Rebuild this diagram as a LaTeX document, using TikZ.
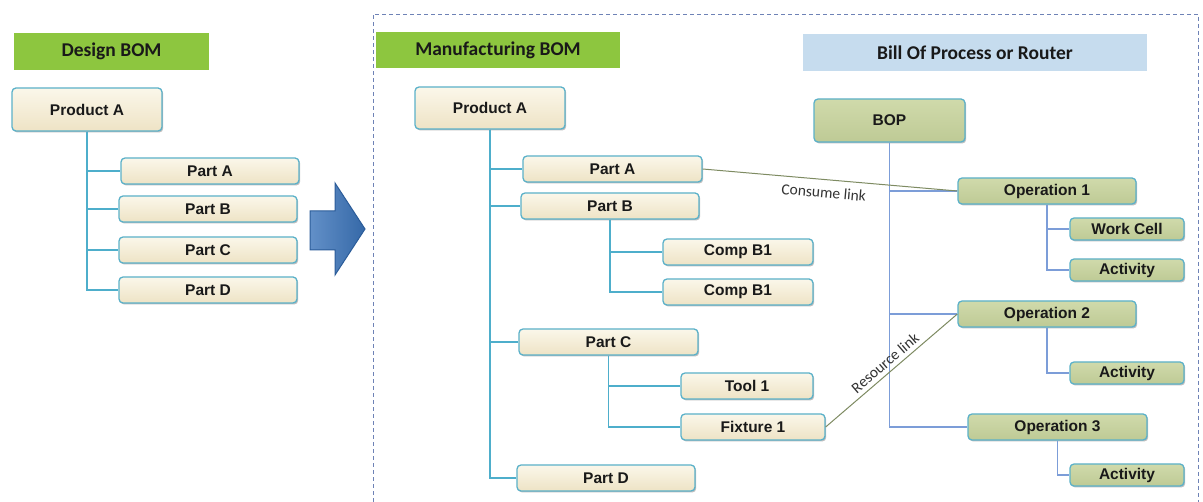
\documentclass[tikz,border=0pt]{standalone}
\usepackage{fontspec}
\setmainfont{Liberation Sans}
\newfontfamily\hfont{Carlito}
\usetikzlibrary{shadows}
\definecolor{boxborder}{HTML}{5BB1C9}
\definecolor{creamtop}{HTML}{FBF7EA}
\definecolor{creambot}{HTML}{EEE3C5}
\definecolor{greentop}{HTML}{D0DAAB}
\definecolor{greenbot}{HTML}{BECA95}
\definecolor{hgreen}{HTML}{8DC63F}
\definecolor{hblue}{HTML}{C6DCEE}
\definecolor{tealline}{HTML}{4EAECB}
\definecolor{blueline}{HTML}{7C9DD8}
\definecolor{linkline}{HTML}{7E8B62}
\definecolor{arrowfill}{HTML}{3B74BA}
\definecolor{arrowdraw}{HTML}{2B5C99}
\definecolor{frameblue}{HTML}{6E82B6}
\tikzset{
  base/.style={draw=boxborder, line width=1.3pt, rounded corners=4pt,
    inner sep=0pt, font=\bfseries\fontsize{15.5}{17}\selectfont, text=black!90,
    drop shadow={shadow xshift=1.2pt, shadow yshift=-1.5pt, opacity=0.25, fill=black}},
  cream/.style={base, top color=creamtop, bottom color=creambot},
  olive/.style={base, top color=greentop, bottom color=greenbot},
  header/.style={inner sep=0pt, font=\hfont\bfseries\fontsize{19.5}{21}\selectfont, text=black!90},
  tree/.style={draw=tealline, line width=1.2pt},
  btree/.style={draw=blueline, line width=1.2pt},
  link/.style={draw=linkline, line width=1pt},
  linklabel/.style={font=\hfont\fontsize{15.5}{17}\selectfont, text=black!80, inner sep=2pt},
}
\begin{document}
\begin{tikzpicture}[x=1pt, y=-1pt]
\useasboundingbox[fill=white] (0,0) rectangle (1203,502);
% frame
\draw[frameblue, dashed, line width=0.8pt, dash pattern=on 4pt off 3pt] (373,502) -- (373,14) -- (1198,14) -- (1198,502);
% headers
\node[header, fill=hgreen, minimum width=195, minimum height=37] (dh) at (111.5,51.5) {Design BOM};
\node[header, fill=hgreen, minimum width=244, minimum height=36] (mh) at (498,50) {Manufacturing BOM};
\node[header, fill=hblue, minimum width=344, minimum height=37] (bh) at (975,52.5) {Bill Of Process or Router};
% left tree
\node[cream, minimum width=150, minimum height=43] (lprod) at (87,109.5) {Product A};
\node[cream, minimum width=178, minimum height=26] (lpa) at (210,171) {Part A};
\node[cream, minimum width=178, minimum height=26] (lpb) at (208,209) {Part B};
\node[cream, minimum width=178, minimum height=26] (lpc) at (208,250) {Part C};
\node[cream, minimum width=178, minimum height=26] (lpd) at (208,290) {Part D};
% arrow
\draw[arrowdraw, line width=1pt, left color=arrowfill!80!white, right color=arrowfill!90!black, line join=miter]
  (310,211) -- (335,211) -- (335,183) -- (365,229) -- (335,275) -- (335,250) -- (310,250) -- cycle;
% manufacturing tree
\node[cream, minimum width=150, minimum height=42] (mprod) at (490,108) {Product A};
\node[cream, minimum width=179, minimum height=26] (mpa) at (612.5,169) {Part A};
\node[cream, minimum width=178, minimum height=26] (mpb) at (610,206) {Part B};
\node[cream, minimum width=150, minimum height=26] (cb1) at (738,252) {Comp B1};
\node[cream, minimum width=150, minimum height=26] (cb2) at (738,292) {Comp B1};
\node[cream, minimum width=179, minimum height=26] (mpc) at (608.5,342) {Part C};
\node[cream, minimum width=132, minimum height=26] (tool) at (747,386) {Tool 1};
\node[cream, minimum width=144, minimum height=26] (fix) at (753,427) {Fixture 1};
\node[cream, minimum width=178, minimum height=26] (mpd) at (606,478) {Part D};
% BOP tree
\node[olive, minimum width=151, minimum height=43] (bop) at (889.5,120.5) {BOP};
\node[olive, minimum width=178, minimum height=26] (op1) at (1047,191) {Operation 1};
\node[olive, minimum width=114, minimum height=22] (wc) at (1127,229) {Work Cell};
\node[olive, minimum width=114, minimum height=22] (act1) at (1127,270) {Activity};
\node[olive, minimum width=178, minimum height=26] (op2) at (1047,314) {Operation 2};
\node[olive, minimum width=114, minimum height=22] (act2) at (1127,373) {Activity};
\node[olive, minimum width=179, minimum height=26] (op3) at (1057.5,427) {Operation 3};
\node[olive, minimum width=114, minimum height=22] (act3) at (1127,475) {Activity};
% connectors (left)
\draw[tree] (lprod.south) |- (lpa.west);
\draw[tree] (lprod.south) |- (lpb.west);
\draw[tree] (lprod.south) |- (lpc.west);
\draw[tree] (lprod.south) |- (lpd.west);
% connectors (mfg)
\draw[tree] (mprod.south) |- (mpa.west);
\draw[tree] (mprod.south) |- (mpb.west);
\draw[tree] (mprod.south) |- (mpc.west);
\draw[tree] (mprod.south) |- (mpd.west);
\draw[tree] (mpb.south) |- (cb1.west);
\draw[tree] (mpb.south) |- (cb2.west);
\draw[tree] (mpc.south) |- (tool.west);
\draw[tree] (mpc.south) |- (fix.west);
% connectors (BOP)
\draw[btree] (bop.south) |- (op1.west);
\draw[btree] (bop.south) |- (op2.west);
\draw[btree] (bop.south) |- (op3.west);
\draw[btree] (op1.south) |- (wc.west);
\draw[btree] (op1.south) |- (act1.west);
\draw[btree] (op2.south) |- (act2.west);
\draw[btree] (op3.south) |- (act3.west);
% links
\draw[link] (mpa.east) -- (op1.west) node[linklabel, pos=0.48, sloped, below=5pt] {Consume link};
\draw[link] (fix.east) -- (op2.west) node[linklabel, pos=0.5, sloped, above=2pt] {Resource link};
\end{tikzpicture}
\end{document}
